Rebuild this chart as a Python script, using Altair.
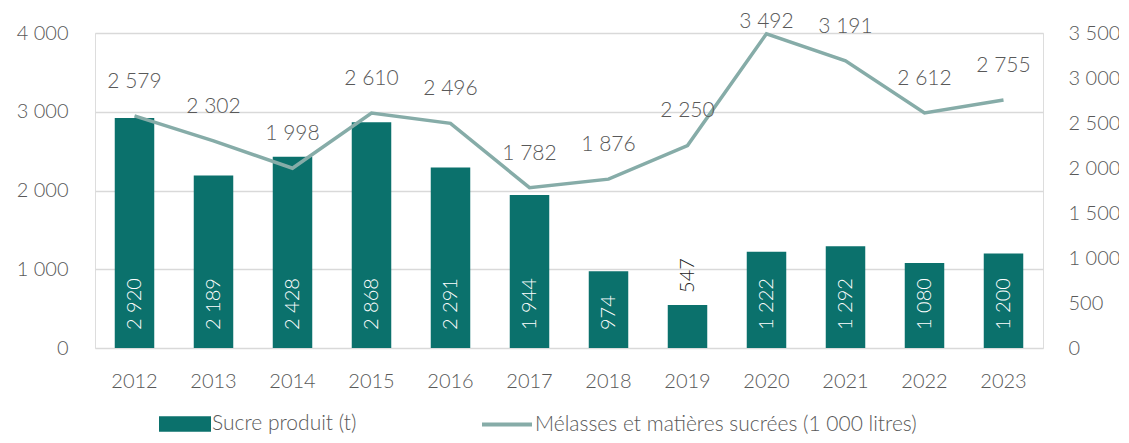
import altair as alt
import pandas as pd

years = [str(y) for y in range(2012, 2024)]
sucre = [2920, 2189, 2428, 2868, 2291, 1944, 974, 547, 1222, 1292, 1080, 1200]
melasses = [2579, 2302, 1998, 2610, 2496, 1782, 1876, 2250, 3492, 3191, 2612, 2755]

SUCRE = "Sucre produit (t)"
MEL = "Mélasses et matières sucrées (1 000 litres)"

TEAL = "#0b716c"
LINE = "#86aca8"
GREY = "#595959"
FONT = "Lato"

df = pd.DataFrame({"year": years, "sucre": sucre, "mel": melasses})
df["s_name"] = SUCRE
df["m_name"] = MEL

base = alt.Chart(df).transform_calculate(
    s_lab="replace(format(datum.sucre, ','), ',', ' ')",
    m_lab="replace(format(datum.mel, ','), ',', ' ')",
    zero="0",
    m_pos="min(datum.mel + 378, 3625)",
)

x = alt.X(
    "year:N",
    title=None,
    scale=alt.Scale(paddingInner=0.5, paddingOuter=0.25),
    axis=alt.Axis(labelAngle=0, ticks=False, domain=False, labelFontSize=20,
                  labelColor=GREY, labelPadding=23, labelFont=FONT, labelFontWeight=300),
)

yl_scale = alt.Scale(domain=[0, 4000], nice=False)
yr_scale = alt.Scale(domain=[0, 3500], nice=False)

fmt = "replace(format(datum.value, ','), ',', ' ')"

yl_axis = alt.Axis(values=[0, 1000, 2000, 3000, 4000], labelExpr=fmt, ticks=False,
                   domain=False, grid=True, gridColor="#d9d9d9", gridWidth=1.5,
                   labelFontSize=20, labelColor=GREY, labelPadding=27,
                   labelFont=FONT, labelFontWeight=300)
yr_axis = alt.Axis(orient="right", values=list(range(0, 3501, 500)), labelExpr=fmt,
                   ticks=False, domain=False, grid=False, labelFontSize=20,
                   labelColor=GREY, labelPadding=25, labelFont=FONT,
                   labelFontWeight=300)

bars = base.mark_bar(color=TEAL).encode(
    x=x,
    y=alt.Y("sucre:Q", title=None, scale=yl_scale, axis=yl_axis),
    color=alt.Color("s_name:N", scale=alt.Scale(range=[TEAL]),
                    legend=alt.Legend(orient="none", legendX=63, legendY=377, title=None,
                                      symbolType="M-1,-0.6L3,-0.6L3,0.6L-1,0.6Z",
                                      symbolSize=676, symbolOpacity=1, labelFontSize=21,
                                      labelColor=GREY, labelFont=FONT, labelFontWeight=300,
                                      labelOffset=26, padding=0, labelLimit=600)),
)

bar_in = base.transform_filter("datum.sucre >= 700").mark_text(
    angle=270, align="left", baseline="middle", dx=18, color="white",
    fontSize=20, font=FONT, fontWeight=300,
).encode(x=x, y=alt.Y("zero:Q", title=None, scale=yl_scale, axis=yl_axis), text="s_lab:N")

bar_out = base.transform_filter("datum.sucre < 700").mark_text(
    angle=270, align="left", baseline="middle", dx=12, color="#1a1a1a",
    fontSize=20, font=FONT, fontWeight=300,
).encode(x=x, y=alt.Y("sucre:Q", title=None, scale=yl_scale, axis=yl_axis), text="s_lab:N")

left = alt.layer(bars, bar_in, bar_out)

line = base.mark_line(strokeWidth=3.5).encode(
    x=x,
    y=alt.Y("mel:Q", title=None, scale=yr_scale, axis=yr_axis),
    color=alt.Color("m_name:N", scale=alt.Scale(range=[LINE]),
                    legend=alt.Legend(orient="none", legendX=385, legendY=377, title=None,
                                      symbolType="M-1,0L3,0", symbolSize=625,
                                      symbolStrokeWidth=4, labelFontSize=21,
                                      labelColor=GREY, labelFont=FONT, labelFontWeight=300,
                                      labelOffset=26, padding=0, labelLimit=600)),
)

line_text = base.mark_text(
    baseline="middle", align="center", color=GREY, fontSize=21, font=FONT,
    fontWeight=300, clip=False,
).encode(x=x, y=alt.Y("m_pos:Q", title=None, scale=yr_scale, axis=yr_axis), text="m_lab:N")

right = alt.layer(line, line_text)

chart = alt.layer(left, right).resolve_scale(
    y="independent", color="independent"
).properties(
    width=948, height=315,
    autosize=alt.AutoSizeParams(type="none"),
    padding={"left": 87, "top": 25, "right": 76, "bottom": 87},
).configure_view(strokeWidth=0).configure(font=FONT)

chart.save("out.html", embed_options={"renderer": "svg", "actions": False})
